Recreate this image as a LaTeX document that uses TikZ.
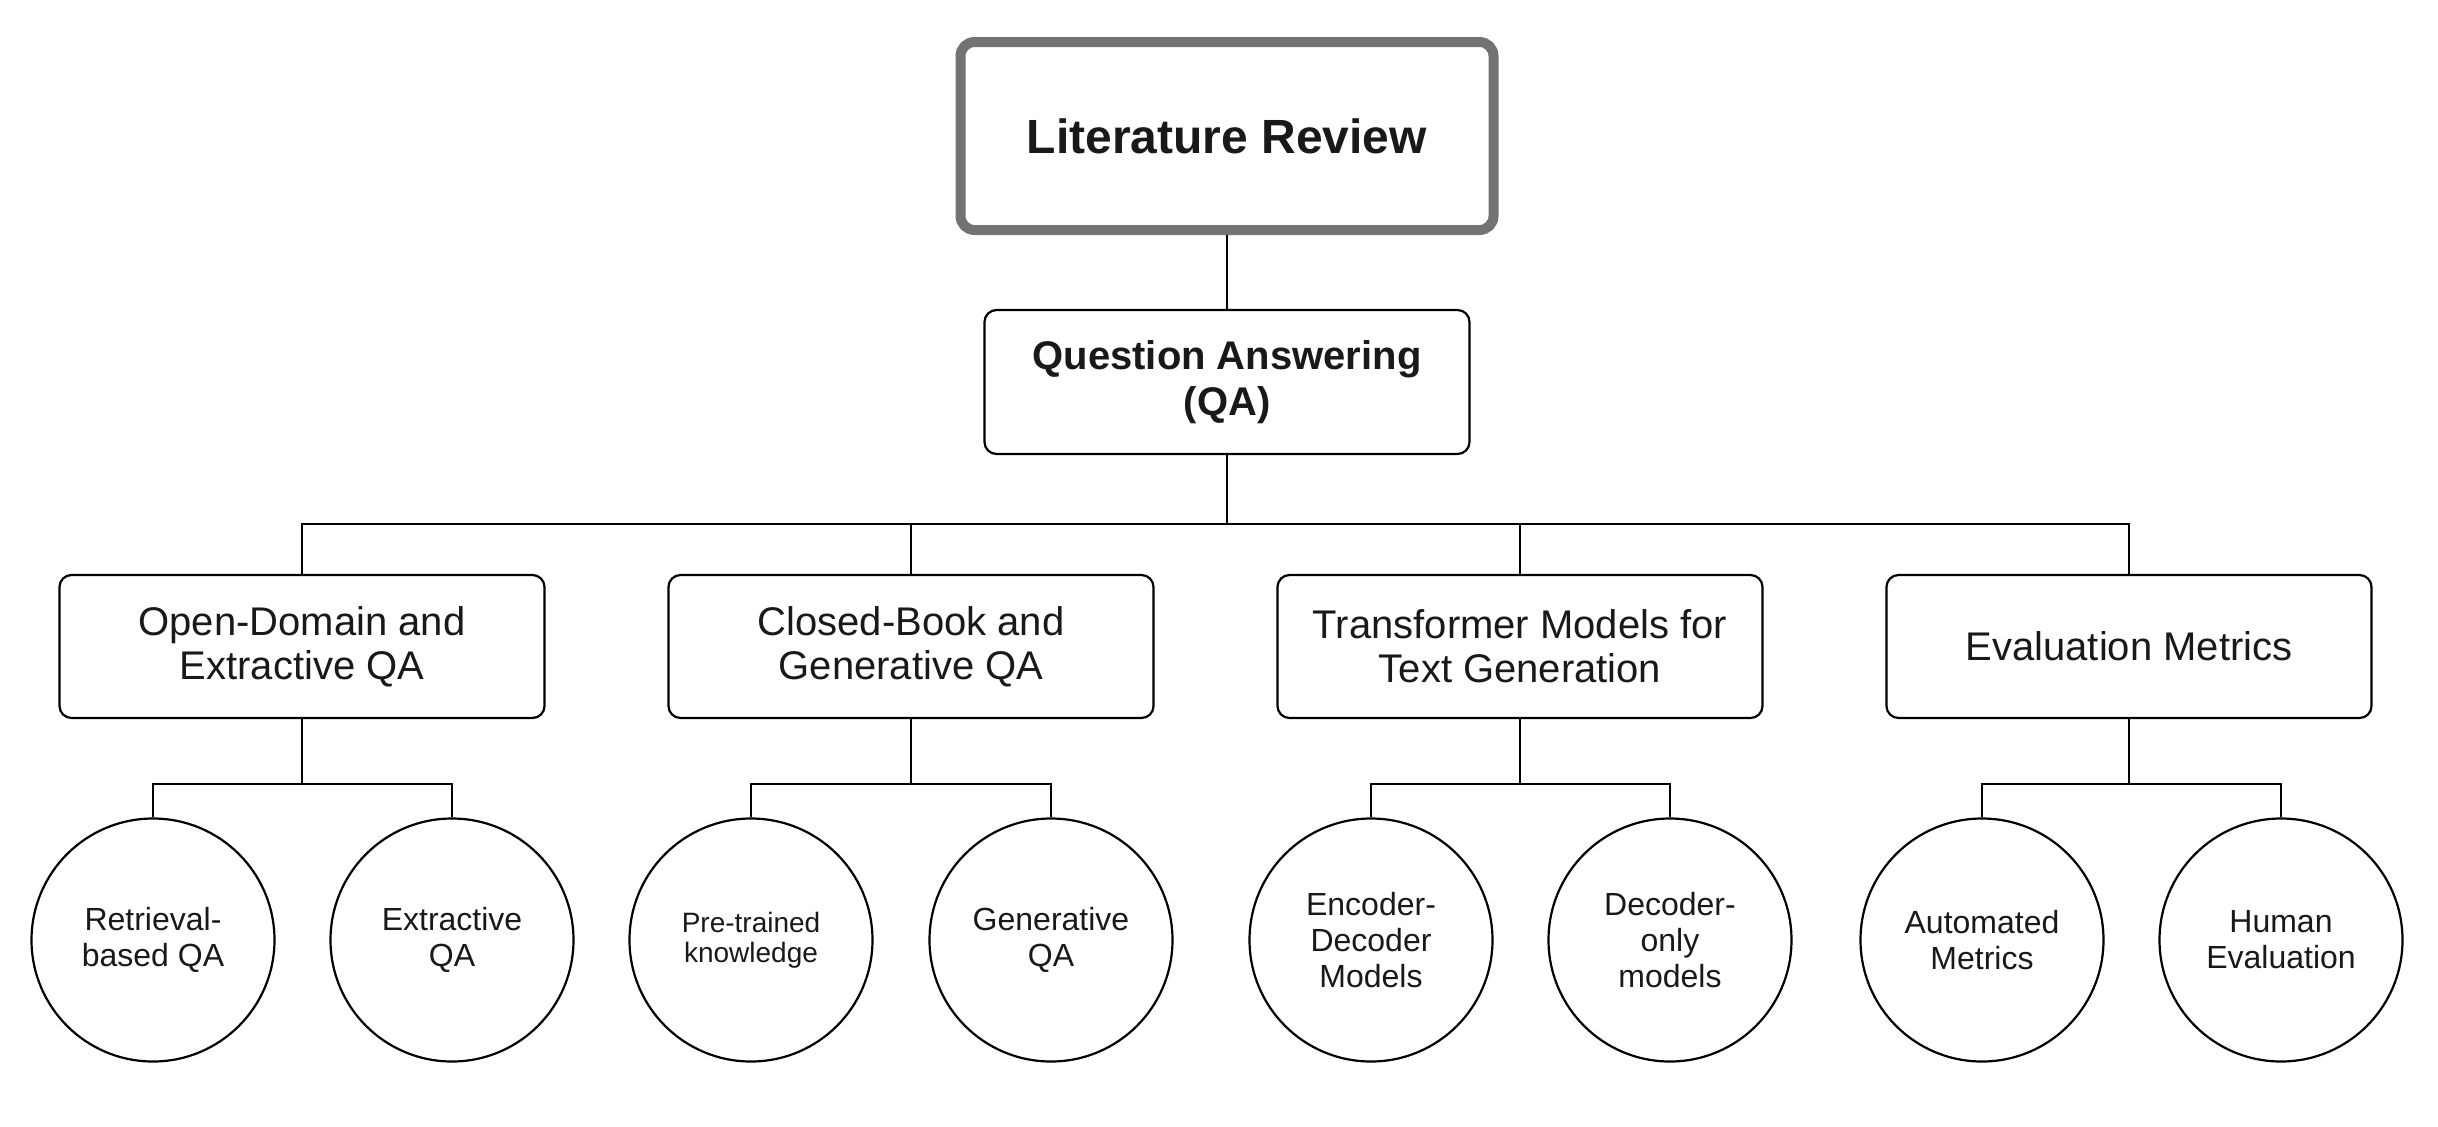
\documentclass[tikz,border=0pt]{standalone}
\usepackage{fontspec}
\setmainfont{Liberation Sans}
\begin{document}
\begin{tikzpicture}[x=0.5pt,y=-0.5pt,
  every node/.style={text=black!90, align=center, inner sep=0pt},
  topbox/.style={draw=black!55, line width=5pt, rounded corners=7pt, minimum width=266.5pt, minimum height=94pt, font=\fontsize{24}{28}\selectfont\bfseries},
  qabox/.style={draw=black, line width=1.1pt, rounded corners=6pt, minimum width=242.5pt, minimum height=72pt, font=\fontsize{20}{23}\selectfont\bfseries},
  catbox/.style={draw=black, line width=1.1pt, rounded corners=6pt, minimum width=242.5pt, minimum height=71.5pt, font=\fontsize{20}{22}\selectfont},
  leaf/.style={draw=black, line width=1.1pt, circle, minimum size=121.5pt, font=\fontsize{16}{18}\selectfont},
  conn/.style={draw=black, line width=1.1pt}
]
\useasboundingbox[fill=white] (0,0) rectangle (2438,1126);

\node[topbox] (lr) at (1227,136) {Literature Review};
\node[qabox] (qa) at (1227,382) {Question Answering\\(QA)};

\node[catbox] (c1) at (302,646.5) {Open-Domain and\\Extractive QA};
\node[catbox] (c2) at (911,646.5) {Closed-Book and\\Generative QA};
\node[catbox] (c3) at (1520,646.5) {Transformer Models for\\Text Generation};
\node[catbox] (c4) at (2129,646.5) {Evaluation Metrics};

\node[leaf] (l1) at (153,940) {Retrieval-\\based QA};
\node[leaf] (l2) at (452,940) {Extractive\\QA};
\node[leaf, font=\fontsize{14}{15}\selectfont] (l3) at (751,940) {Pre-trained\\knowledge};
\node[leaf] (l4) at (1051,940) {Generative\\QA};
\node[leaf] (l5) at (1371,940) {Encoder-\\Decoder\\Models};
\node[leaf] (l6) at (1670,940) {Decoder-\\only\\models};
\node[leaf] (l7) at (1982,940) {Automated\\Metrics};
\node[leaf] (l8) at (2281,940) {Human\\Evaluation};

\coordinate (bar1) at (0,524);
\coordinate (bar2) at (0,784);

\draw[conn] (lr.south) -- (qa.north);
\draw[conn] (qa.south) -- (qa.south |- bar1);
\draw[conn] (c1.north) |- (qa.south |- bar1) -| (c4.north);
\draw[conn] (c2.north) -- (c2.north |- bar1);
\draw[conn] (c3.north) -- (c3.north |- bar1);

\draw[conn] (c1.south) -- (c1.south |- bar2);
\draw[conn] (l1.north) |- (c1.south |- bar2) -| (l2.north);
\draw[conn] (c2.south) -- (c2.south |- bar2);
\draw[conn] (l3.north) |- (c2.south |- bar2) -| (l4.north);
\draw[conn] (c3.south) -- (c3.south |- bar2);
\draw[conn] (l5.north) |- (c3.south |- bar2) -| (l6.north);
\draw[conn] (c4.south) -- (c4.south |- bar2);
\draw[conn] (l7.north) |- (c4.south |- bar2) -| (l8.north);
\end{tikzpicture}
\end{document}
